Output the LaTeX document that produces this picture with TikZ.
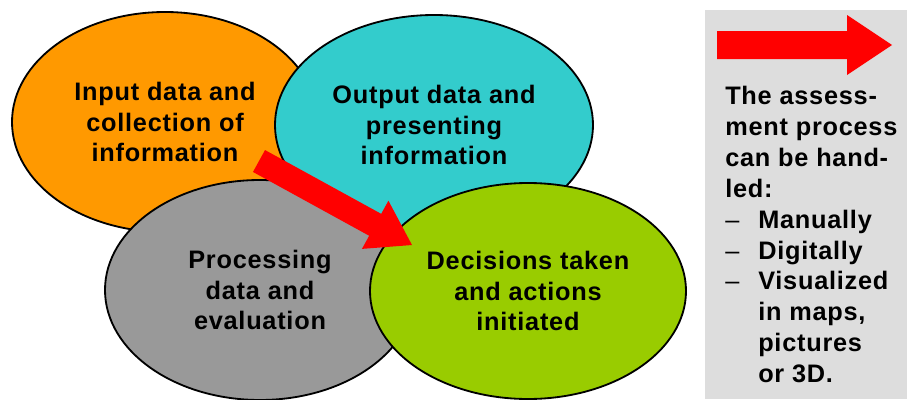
\documentclass[tikz,border=0pt]{standalone}
\usepackage{fontspec}
\setmainfont{Liberation Sans}[LetterSpace=3]
\usetikzlibrary{shapes.geometric}
\definecolor{inputorange}{HTML}{FF9900}
\definecolor{outputcyan}{HTML}{33CCCC}
\definecolor{processgray}{HTML}{999999}
\definecolor{decisiongreen}{HTML}{99CC00}
\definecolor{panelgray}{HTML}{DDDDDD}
\begin{document}
\begin{tikzpicture}[
  bubble/.style={ellipse,draw=black,line width=1.3pt,inner sep=0pt,align=center,
    font=\fontsize{18}{22}\selectfont\bfseries},
  notes/.style={inner sep=0pt,align=left,anchor=north west,
    font=\fontsize{18}{22}\selectfont\bfseries}
]
\useasboundingbox (0,0) rectangle (22.675,9.975);
\fill[panelgray] (17.625,0) rectangle (22.675,9.725);
\node[bubble,fill=inputorange,minimum width=7.65cm,minimum height=5.5cm] (input) at (4.125,6.925) {Input data and\\collection of\\information};
\node[bubble,fill=outputcyan,minimum width=7.95cm,minimum height=5.5cm] (output) at (10.85,6.85) {Output data and\\presenting\\information};
\node[bubble,fill=processgray,minimum width=7.75cm,minimum height=5.5cm] (process) at (6.5,2.725) {Processing\\data and\\evaluation};
\node[bubble,fill=decisiongreen,minimum width=7.9cm,minimum height=5.4cm] (decide) at (13.2,2.7) {Decisions taken\\and actions\\initiated};
\begin{scope}[shift={(6.475,5.95)},rotate=-28.77]
\fill[red] (0,-0.3125) -- (3.314,-0.3125) -- (3.314,-0.6875) -- (4.364,0) -- (3.314,0.6875) -- (3.314,0.3125) -- (0,0.3125) -- cycle;
\end{scope}
\fill[red] (17.925,8.5) -- (21.175,8.5) -- (21.175,8.1) -- (22.3,8.85) -- (21.175,9.6) -- (21.175,9.2) -- (17.925,9.2) -- cycle;
\node[notes] (howto) at (18.125,7.83) {The assess-\\ment process\\can be hand-\\led:\\
\makebox[0.825cm][l]{\mdseries--}Manually\\
\makebox[0.825cm][l]{\mdseries--}Digitally\\
\makebox[0.825cm][l]{\mdseries--}Visualized\\
\hspace*{0.825cm}in maps,\\
\hspace*{0.825cm}pictures\\
\hspace*{0.825cm}or 3D.};
\end{tikzpicture}
\end{document}
